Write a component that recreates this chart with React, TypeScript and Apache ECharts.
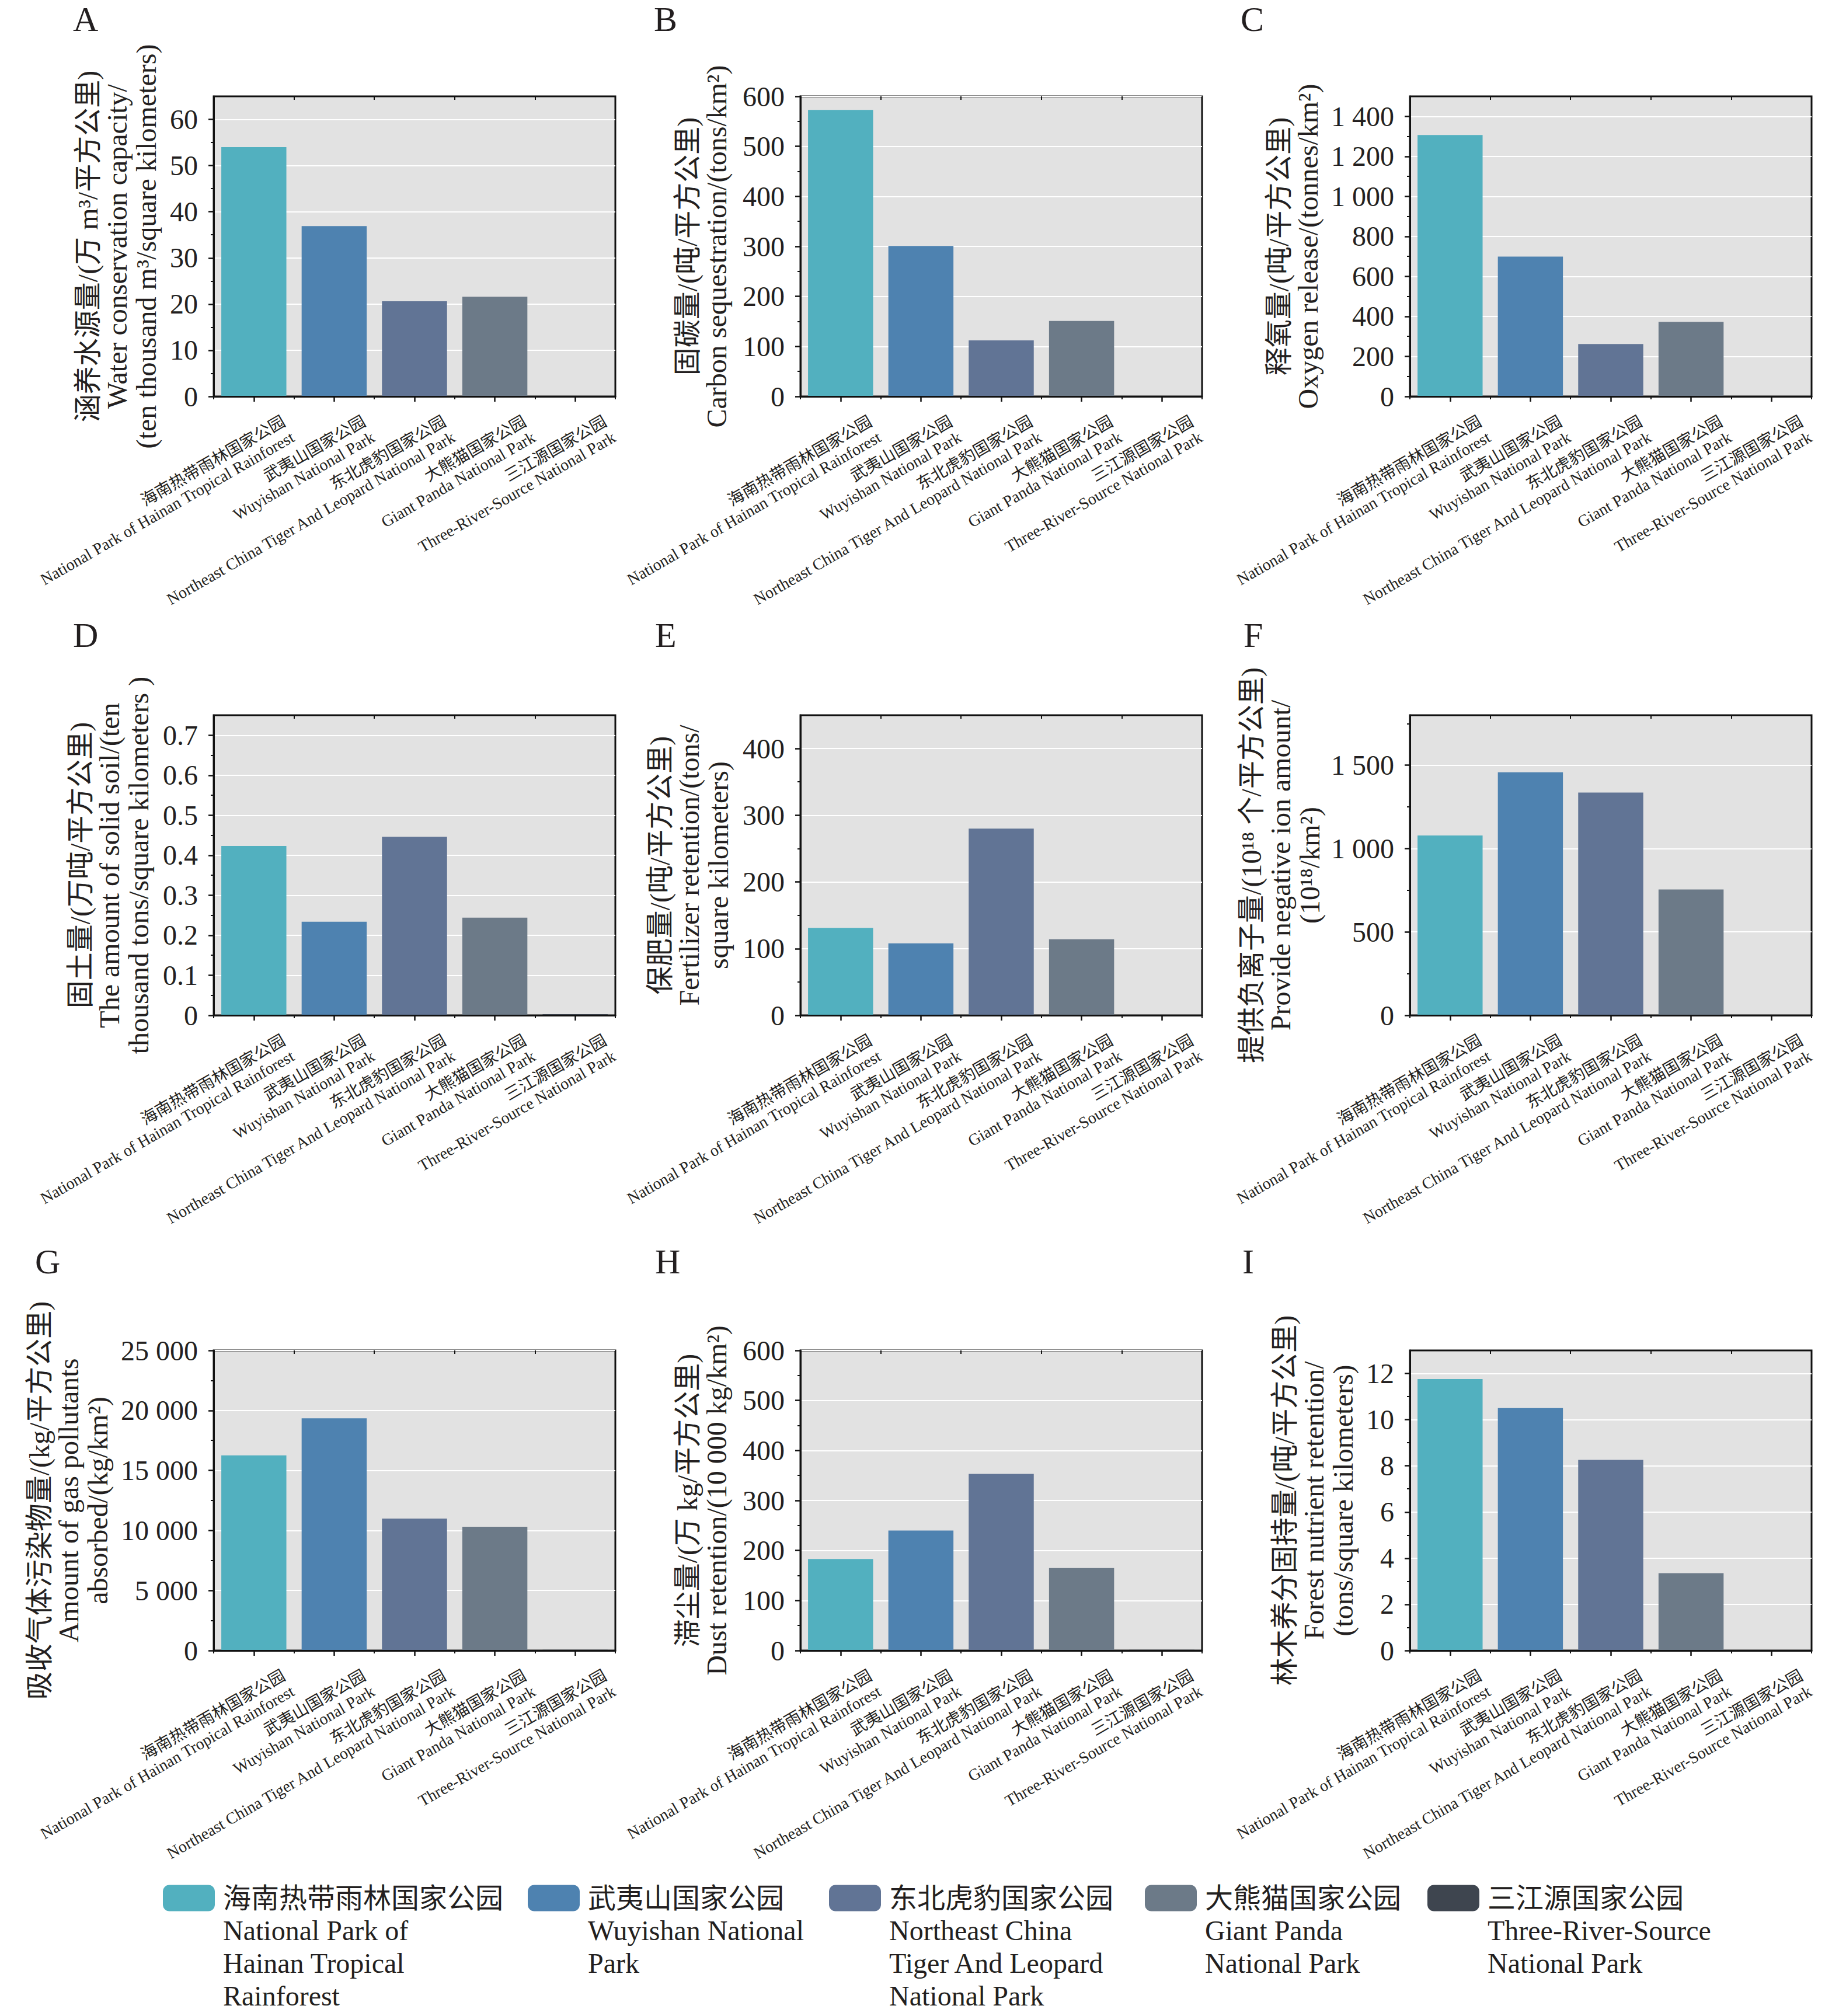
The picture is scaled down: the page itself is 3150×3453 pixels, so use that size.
import React, { useEffect, useRef } from 'react';
import * as echarts from 'echarts';

// ---------- data ----------
const categoriesZh = ['海南热带雨林国家公园', '武夷山国家公园', '东北虎豹国家公园', '大熊猫国家公园', '三江源国家公园'];
const categoriesEn = [
  'National Park of Hainan Tropical Rainforest',
  'Wuyishan National Park',
  'Northeast China Tiger And Leopard National Park',
  'Giant Panda National Park',
  'Three-River-Source National Park',
];
const legendEnWrapped = [
  'National Park of\nHainan Tropical\nRainforest',
  'Wuyishan National\nPark',
  'Northeast China\nTiger And Leopard\nNational Park',
  'Giant Panda\nNational Park',
  'Three-River-Source\nNational Park',
];

const waterConservation = [54.0, 36.9, 20.6, 21.6, 0];
const carbonSequestration = [573, 301, 112, 151, 0];
const oxygenRelease = [1307, 699, 262, 373, 0];
const soilRetention = [0.423, 0.234, 0.446, 0.244, 0.003];
const fertilizerRetention = [131, 108, 280, 114, 0];
const negativeIons = [1079, 1458, 1336, 755, 0];
const gasAbsorption = [16260, 19340, 10990, 10310, 60];
const dustRetention = [183, 240, 353, 165, 1.5];
const nutrientRetention = [11.76, 10.5, 8.26, 3.35, 0];

const ticksA = [0, 10, 20, 30, 40, 50, 60];
const ticksB = [0, 100, 200, 300, 400, 500, 600];
const ticksC = [0, 200, 400, 600, 800, 1000, 1200, 1400];
const ticksD = [0, 0.1, 0.2, 0.3, 0.4, 0.5, 0.6, 0.7];
const ticksE = [0, 100, 200, 300, 400];
const ticksF = [0, 500, 1000, 1500];
const ticksG = [0, 5000, 10000, 15000, 20000, 25000];
const ticksH = [0, 100, 200, 300, 400, 500, 600];
const ticksI = [0, 2, 4, 6, 8, 10, 12];

const yMaxes = [65, 600, 1500, 0.75, 450, 1800, 25000, 600, 13];

const panelLetters = ['A', 'B', 'C', 'D', 'E', 'F', 'G', 'H', 'I'];
const yTitles = [
  '涵养水源量/(万 m³/平方公里)\nWater conservation capacity/\n(ten thousand m³/square kilometers)',
  '固碳量/(吨/平方公里)\nCarbon sequestration/(tons/km²)',
  '释氧量/(吨/平方公里)\nOxygen release/(tonnes/km²)',
  '固土量/(万吨/平方公里)\nThe amount of solid soil/(ten\nthousand tons/square kilometers )',
  '保肥量/(吨/平方公里)\nFertilizer retention/(tons/\nsquare kilometers)',
  '提供负离子量/(10¹⁸ 个/平方公里)\nProvide negative ion amount/\n(10¹⁸/km²)',
  '吸收气体污染物量/(kg/平方公里)\nAmount of gas pollutants\nabsorbed/(kg/km²)',
  '滞尘量/(万 kg/平方公里)\nDust retention/(10 000 kg/km²)',
  '林木养分固持量/(吨/平方公里)\nForest nutrient retention/\n(tons/square kilometers)',
];

const panelValues = [
  waterConservation, carbonSequestration, oxygenRelease,
  soilRetention, fertilizerRetention, negativeIons,
  gasAbsorption, dustRetention, nutrientRetention,
];
const panelTicks = [ticksA, ticksB, ticksC, ticksD, ticksE, ticksF, ticksG, ticksH, ticksI];

// ---------- layout / style ----------
const W = 3150;
const H = 3453;
const FONT = "'Liberation Serif', 'Times New Roman', 'Noto Sans CJK SC', serif";
const TEXT = '#231f20';
const INK = '#111111';
const COLORS = ['#52b0bf', '#4e82b0', '#617495', '#6c7a88', '#3e454f'];
const COL_LEFT = [366, 1371, 2415];
const ROW_TOP = [165, 1225, 2313];
const PLOT_W = 688;
const PLOT_H = 514;
const NAME_GAP = [91, 119, 150, 104, 116, 147, 174, 119, 90];
const LETTER_POS = [
  [125, 33], [1120, 33], [2125, 33],
  [125, 1088], [1122, 1088], [2130, 1088],
  [60, 2161], [1122, 2161], [2128, 2161],
];
const LEGEND_X = [279, 904, 1420, 1961, 2445];
const LEGEND_Y = 3228;
const LEGEND_ICON_W = 89;
const LEGEND_ICON_H = 45;
const LEGEND_TEXT_DX = 103;
const LEGEND_LH = 56;
const XLABEL_DX = 59;
const XLABEL_DY = 54;

const fmt = (v: number) => {
  const r = Math.round(v * 1000) / 1000;
  if (Math.abs(r) >= 1000) return String(Math.round(r)).replace(/\B(?=(\d{3})+(?!\d))/g, ' ');
  return String(r);
};

function buildOption() {
  const grid: any[] = [];
  const xAxis: any[] = [];
  const yAxis: any[] = [];
  const series: any[] = [];

  for (let k = 0; k < 9; k++) {
    const col = k % 3;
    const row = Math.floor(k / 3);
    grid.push({
      left: COL_LEFT[col],
      top: ROW_TOP[row],
      width: PLOT_W,
      height: PLOT_H,
      show: true,
      backgroundColor: '#e2e2e2',
      borderColor: INK,
      borderWidth: 3,
    });
    // main bottom axis: ticks at category centres
    xAxis.push({
      type: 'category',
      gridIndex: k,
      position: 'bottom',
      data: categoriesZh,
      z: 5,
      axisLine: { show: true, lineStyle: { color: INK, width: 3 } },
      axisTick: { show: true, alignWithLabel: true, interval: 0, length: 9, lineStyle: { color: INK, width: 2.5 } },
      axisLabel: { show: false },
      splitLine: { show: false },
    });
    // bottom minor ticks at category boundaries
    xAxis.push({
      type: 'category',
      gridIndex: k,
      position: 'bottom',
      data: categoriesZh,
      axisLine: { show: false },
      axisTick: { show: true, interval: 0, length: 5, lineStyle: { color: INK, width: 2 } },
      axisLabel: { show: false },
      splitLine: { show: false },
    });
    // top inward ticks at category boundaries
    xAxis.push({
      type: 'category',
      gridIndex: k,
      position: 'top',
      data: categoriesZh,
      axisLine: { show: false },
      axisTick: { show: true, inside: true, interval: 0, length: 6, lineStyle: { color: INK, width: 2 } },
      axisLabel: { show: false },
      splitLine: { show: false },
    });

    const ticks = panelTicks[k];
    const interval = ticks[1] - ticks[0];
    yAxis.push({
      type: 'value',
      gridIndex: k,
      min: 0,
      max: yMaxes[k],
      interval,
      name: yTitles[k],
      nameLocation: 'middle',
      nameGap: NAME_GAP[k],
      nameRotate: 90,
      nameTextStyle: { fontFamily: FONT, fontSize: 48, lineHeight: 50, color: TEXT },
      axisLine: { show: true, lineStyle: { color: INK, width: 3 } },
      axisTick: { show: true, length: 9, customValues: ticks, lineStyle: { color: INK, width: 2.5 } },
      minorTick: { show: true, splitNumber: 2, length: 5, lineStyle: { color: INK, width: 2 } },
      axisLabel: {
        fontFamily: FONT,
        fontSize: 48,
        color: TEXT,
        margin: 27,
        customValues: ticks,
        formatter: (v: number) => {
          const q = v / interval;
          return Math.abs(q - Math.round(q)) < 1e-6 ? fmt(v) : '';
        },
      },
      splitLine: { show: true, lineStyle: { color: '#ffffff', width: 2 } },
    });

    const vals = panelValues[k];
    for (let j = 0; j < 5; j++) {
      series.push({
        type: 'bar',
        name: categoriesZh[j],
        xAxisIndex: 3 * k,
        yAxisIndex: k,
        stack: 'panel' + k,
        barCategoryGap: '19%',
        color: COLORS[j],
        silent: true,
        data: vals.map((v, i) => (i === j ? v : '-')),
      });
    }
  }

  const legend = LEGEND_X.map((lx, i) => ({
    left: lx,
    top: LEGEND_Y - 1,
    padding: 0,
    itemWidth: LEGEND_ICON_W,
    itemHeight: LEGEND_ICON_H,
    selectedMode: false,
    data: [categoriesZh[i]],
    textStyle: {
      fontFamily: FONT,
      fontSize: 48,
      color: TEXT,
      padding: [0, 0, 0, LEGEND_TEXT_DX - LEGEND_ICON_W - 5],
    },
  }));

  return {
    animation: false,
    backgroundColor: '#ffffff',
    textStyle: { fontFamily: FONT },
    grid,
    xAxis,
    yAxis,
    series,
    legend,
  };
}

export default function App() {
  const ref = useRef<HTMLDivElement>(null);
  useEffect(() => {
    if (!ref.current) return;
    const chart = echarts.init(ref.current, null, { renderer: 'svg', width: W, height: H });
    chart.setOption(buildOption());

    const graphics: any[] = [];
    for (let k = 0; k < 9; k++) {
      const [lx, ly] = LETTER_POS[k];
      graphics.push({
        type: 'text',
        id: 'letter' + k,
        x: lx,
        y: ly,
        silent: true,
        style: { text: panelLetters[k], fontFamily: FONT, fontSize: 60, fill: TEXT, align: 'left', verticalAlign: 'middle' },
      });
      const y0 = chart.convertToPixel({ yAxisIndex: k }, 0) as number;
      for (let j = 0; j < 5; j++) {
        const x = chart.convertToPixel({ xAxisIndex: 3 * k }, categoriesZh[j]) as number;
        graphics.push({
          type: 'text',
          id: 'xl' + k + '_' + j,
          x: x + XLABEL_DX,
          y: y0 + XLABEL_DY,
          rotation: Math.PI / 6,
          silent: true,
          style: {
            text: categoriesZh[j] + '\n' + categoriesEn[j],
            fontFamily: FONT,
            fontSize: 28,
            lineHeight: 31,
            fill: TEXT,
            align: 'right',
            verticalAlign: 'middle',
          },
        });
      }
    }
    // English part of each legend entry, under its Chinese name
    LEGEND_X.forEach((lx, i) => {
      graphics.push({
        type: 'text',
        id: 'legEn' + i,
        x: lx + LEGEND_TEXT_DX,
        y: LEGEND_Y + LEGEND_ICON_H / 2 + LEGEND_LH / 2,
        silent: true,
        style: {
          text: legendEnWrapped[i],
          fontFamily: FONT,
          fontSize: 48,
          lineHeight: LEGEND_LH,
          fill: TEXT,
          align: 'left',
          verticalAlign: 'top',
        },
      });
    });
    chart.setOption({ graphic: graphics });
    return () => chart.dispose();
  }, []);
  return <div ref={ref} style={{ position: 'absolute', left: 0, top: 0, width: W, height: H }} />;
}
